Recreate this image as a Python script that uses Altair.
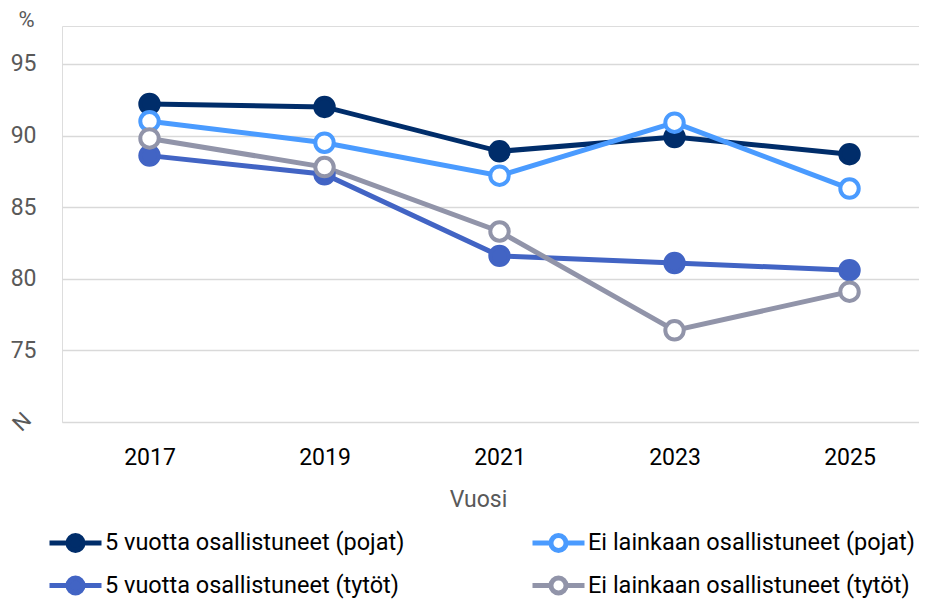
import altair as alt
import pandas as pd

years = [2017, 2019, 2021, 2023, 2025]
series_names = [
    "5 vuotta osallistuneet (pojat)",
    "5 vuotta osallistuneet (tytöt)",
    "Ei lainkaan osallistuneet (pojat)",
    "Ei lainkaan osallistuneet (tytöt)",
]
v5_pojat = [92.2, 92.0, 88.9, 89.9, 88.7]
v5_tytot = [88.6, 87.3, 81.6, 81.1, 80.6]
ei_pojat = [91.0, 89.5, 87.2, 90.9, 86.3]
ei_tytot = [89.8, 87.8, 83.3, 76.4, 79.1]

legend_order = [series_names[0], series_names[2], series_names[1], series_names[3]]
stroke_colors = ["#002D6A", "#4A9BFF", "#4264C4", "#9194A9"]
fill_colors = ["#002D6A", "#FFFFFF", "#4264C4", "#FFFFFF"]

rows = []
for name, vals in zip(series_names, [v5_pojat, v5_tytot, ei_pojat, ei_tytot]):
    for y, v in zip(years, vals):
        rows.append({"Vuosi": y, "sarja": name, "arvo": v})
df = pd.DataFrame(rows)

FONT = "Roboto"
GRAY = "#595959"

x_enc = alt.X(
    "Vuosi:Q",
    scale=alt.Scale(domain=[2016, 2025.794], nice=False, zero=False),
    axis=alt.Axis(
        values=years, format="d", grid=False, ticks=False, domain=False,
        labelFontSize=23, labelColor="#000000", labelPadding=24, labelFont=FONT,
        title="Vuosi", titleFontSize=23, titleColor=GRAY, titleFontWeight="normal",
        titleFont=FONT, titlePadding=19, titleX=416, titleAlign="center",
    ),
)
y_enc = alt.Y(
    "arvo:Q",
    scale=alt.Scale(domain=[70, 97.65], nice=False, zero=False),
    axis=alt.Axis(
        values=[70, 75, 80, 85, 90, 95], ticks=False, domain=False,
        gridColor="#D9D9D9", gridWidth=1.5,
        labelFontSize=23, labelColor=GRAY, labelPadding=26, labelFont=FONT,
        labelExpr="datum.value == 70 ? '' : datum.label",
        title="%", titleAngle=0, titleX=-36, titleY=-7, titleAlign="center",
        titleBaseline="middle", titleFontSize=22, titleColor=GRAY,
        titleFontWeight="normal", titleFont=FONT,
    ),
)

stroke_scale = alt.Scale(domain=legend_order, range=stroke_colors)
fill_scale = alt.Scale(domain=legend_order, range=fill_colors)

legend = alt.Legend(
    title=None, orient="none", legendX=-2, legendY=501, columns=2,
    direction="horizontal", labelFontSize=23.5, labelColor="#000000", labelFont=FONT,
    labelLimit=0,
    symbolType="M-2,0H-0.58M0.58,0H2M-0.58,0A0.58,0.58 0 1,0 0.58,0A0.58,0.58 0 1,0 -0.58,0Z",
    symbolSize=676, symbolStrokeWidth=5, symbolOpacity=1, labelOffset=14,
    columnPadding=117, rowPadding=6,
)

base = alt.Chart(df)
lines = base.mark_line(strokeWidth=5).encode(
    x=x_enc, y=y_enc,
    stroke=alt.Stroke("sarja:N", scale=stroke_scale, legend=legend, sort=legend_order),
    detail="sarja:N",
)
points = base.mark_circle(size=340, strokeWidth=4, opacity=1).encode(
    x=x_enc, y=y_enc,
    stroke=alt.Stroke("sarja:N", scale=stroke_scale, legend=legend, sort=legend_order),
    fill=alt.Fill("sarja:N", scale=fill_scale, legend=legend, sort=legend_order),
)

brk = alt.Chart(pd.DataFrame({"arvo": [70]})).mark_text(
    text="N", font=FONT, fontSize=22, color=GRAY, angle=315,
    align="center", baseline="middle",
).encode(x=alt.value(-40), y=alt.Y("arvo:Q", scale=alt.Scale(domain=[70, 97.65], nice=False, zero=False)))

chart = alt.layer(lines, points, brk).properties(
    width=857, height=396,
    padding={"left": 0, "top": 0, "right": 0, "bottom": 0},
).configure_view(stroke=None).configure(font=FONT)

chart.save("out.html", embed_options={"renderer": "svg", "actions": False})
